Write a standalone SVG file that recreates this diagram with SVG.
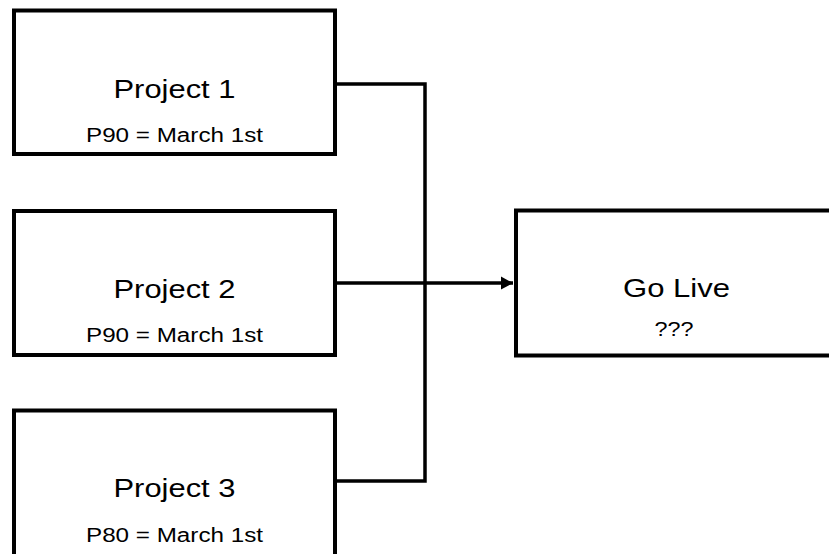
<svg xmlns="http://www.w3.org/2000/svg" width="829" height="554" viewBox="0 0 829 554">
<style>
.box{fill:#fff;stroke:#000;stroke-width:4}
.conn{fill:none;stroke:#000;stroke-width:3.5}
.title{font-family:"Liberation Sans",Arial,sans-serif;font-size:25.5px;fill:#000;text-anchor:middle}
.sub{font-family:"Liberation Sans",Arial,sans-serif;font-size:20px;fill:#000;text-anchor:middle}
</style>
<defs>
<marker id="arrow" markerUnits="userSpaceOnUse" markerWidth="14" markerHeight="16" refX="12" refY="8" orient="auto">
<path d="M0,1.5 L12,8 L0,14.5 Z" fill="#000"/>
</marker>
</defs>
<rect width="829" height="554" fill="#fff"/>
<g id="connectors">
<polyline class="conn" points="335,84 425,84 425,481 335,481"/>
<line class="conn" x1="335" y1="283" x2="513" y2="283" marker-end="url(#arrow)"/>
</g>
<g id="project1">
<rect class="box" x="14" y="10.5" width="321" height="143.5"/>
<text class="title" x="174.5" y="98" textLength="122" lengthAdjust="spacingAndGlyphs">Project 1</text>
<text class="sub" x="174.5" y="142" textLength="177" lengthAdjust="spacingAndGlyphs">P90 = March 1st</text>
</g>
<g id="project2">
<rect class="box" x="14" y="211" width="321" height="144"/>
<text class="title" x="174.5" y="297.5" textLength="122" lengthAdjust="spacingAndGlyphs">Project 2</text>
<text class="sub" x="174.5" y="341.5" textLength="177" lengthAdjust="spacingAndGlyphs">P90 = March 1st</text>
</g>
<g id="project3">
<rect class="box" x="14" y="410.5" width="321" height="150"/>
<text class="title" x="174.5" y="496.5" textLength="122" lengthAdjust="spacingAndGlyphs">Project 3</text>
<text class="sub" x="174.5" y="541.5" textLength="177" lengthAdjust="spacingAndGlyphs">P80 = March 1st</text>
</g>
<g id="golive">
<rect class="box" x="516" y="210.5" width="321" height="145"/>
<text class="title" x="676.5" y="296.5" textLength="107" lengthAdjust="spacingAndGlyphs">Go Live</text>
<text class="sub" x="674" y="336" textLength="39" lengthAdjust="spacingAndGlyphs">???</text>
</g>
</svg>
